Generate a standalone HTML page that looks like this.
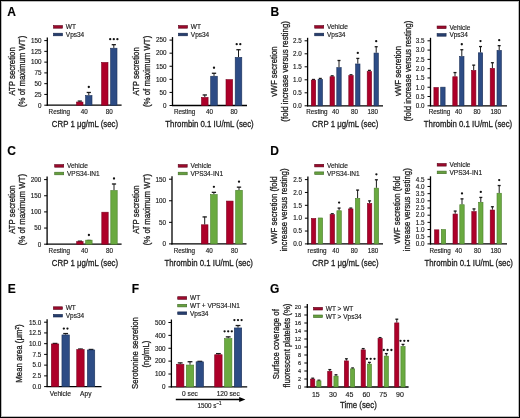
<!DOCTYPE html>
<html><head><meta charset="utf-8"><style>
html,body{margin:0;padding:0;background:#fff;}
body{width:520px;height:418px;overflow:hidden;}
text{stroke:#1a1a1a;stroke-width:0.15px;}
text.t{stroke-width:0.3px;}
svg{display:block;font-family:"Liberation Sans", sans-serif;-webkit-font-smoothing:antialiased;will-change:transform;}
</style></head><body>
<svg width="520" height="418" viewBox="0 0 520 418">
<rect x="0" y="0" width="520" height="418" fill="#fff"/>
<line x1="47.30" y1="37.60" x2="47.30" y2="105.70" stroke="#000" stroke-width="1.3"/>
<line x1="46.70" y1="105.20" x2="121.60" y2="105.20" stroke="#000" stroke-width="1.3"/>
<line x1="44.30" y1="105.20" x2="47.30" y2="105.20" stroke="#000" stroke-width="1.0"/>
<text x="41.40" y="107.50" font-size="6.3" text-anchor="end" font-weight="normal" fill="#1a1a1a" >0</text>
<line x1="44.30" y1="94.43" x2="47.30" y2="94.43" stroke="#000" stroke-width="1.0"/>
<text x="41.40" y="96.73" font-size="6.3" text-anchor="end" font-weight="normal" fill="#1a1a1a" >25</text>
<line x1="44.30" y1="83.67" x2="47.30" y2="83.67" stroke="#000" stroke-width="1.0"/>
<text x="41.40" y="85.97" font-size="6.3" text-anchor="end" font-weight="normal" fill="#1a1a1a" >50</text>
<line x1="44.30" y1="72.90" x2="47.30" y2="72.90" stroke="#000" stroke-width="1.0"/>
<text x="41.40" y="75.20" font-size="6.3" text-anchor="end" font-weight="normal" fill="#1a1a1a" >75</text>
<line x1="44.30" y1="62.13" x2="47.30" y2="62.13" stroke="#000" stroke-width="1.0"/>
<text x="41.40" y="64.43" font-size="6.3" text-anchor="end" font-weight="normal" fill="#1a1a1a" >100</text>
<line x1="44.30" y1="51.37" x2="47.30" y2="51.37" stroke="#000" stroke-width="1.0"/>
<text x="41.40" y="53.67" font-size="6.3" text-anchor="end" font-weight="normal" fill="#1a1a1a" >125</text>
<line x1="44.30" y1="40.60" x2="47.30" y2="40.60" stroke="#000" stroke-width="1.0"/>
<text x="41.40" y="42.90" font-size="6.3" text-anchor="end" font-weight="normal" fill="#1a1a1a" >150</text>
<rect x="51.60" y="105.24" width="6.40" height="-0.04" fill="#ad0029" stroke="#7a001e" stroke-width="0.6"/>
<text x="59.30" y="113.90" font-size="6.3" text-anchor="middle" font-weight="normal" fill="#1a1a1a" >Resting</text>
<line x1="79.80" y1="100.89" x2="79.80" y2="101.75" stroke="#1a1a1a" stroke-width="1.0"/>
<line x1="77.70" y1="101.09" x2="81.90" y2="101.09" stroke="#1a1a1a" stroke-width="1.3"/>
<rect x="76.60" y="102.05" width="6.40" height="3.15" fill="#ad0029" stroke="#7a001e" stroke-width="0.6"/>
<line x1="88.80" y1="92.28" x2="88.80" y2="95.29" stroke="#1a1a1a" stroke-width="1.0"/>
<line x1="86.70" y1="92.48" x2="90.90" y2="92.48" stroke="#1a1a1a" stroke-width="1.3"/>
<rect x="85.60" y="95.59" width="6.40" height="9.61" fill="#2d4c85" stroke="#1b3058" stroke-width="0.6"/>
<circle cx="88.80" cy="86.98" r="1.15" fill="#111"/>
<text x="84.30" y="113.90" font-size="6.3" text-anchor="middle" font-weight="normal" fill="#1a1a1a" >40</text>
<rect x="101.60" y="62.43" width="6.40" height="42.77" fill="#ad0029" stroke="#7a001e" stroke-width="0.6"/>
<line x1="113.80" y1="44.48" x2="113.80" y2="47.92" stroke="#1a1a1a" stroke-width="1.0"/>
<line x1="111.70" y1="44.68" x2="115.90" y2="44.68" stroke="#1a1a1a" stroke-width="1.3"/>
<rect x="110.60" y="48.22" width="6.40" height="56.98" fill="#2d4c85" stroke="#1b3058" stroke-width="0.6"/>
<circle cx="110.20" cy="39.18" r="1.15" fill="#111"/>
<circle cx="113.80" cy="39.18" r="1.15" fill="#111"/>
<circle cx="117.40" cy="39.18" r="1.15" fill="#111"/>
<text x="109.30" y="113.90" font-size="6.3" text-anchor="middle" font-weight="normal" fill="#1a1a1a" >80</text>
<text transform="translate(85.00,126.60) scale(0.8,1)" font-size="9.8" text-anchor="middle" font-weight="normal" fill="#1a1a1a"  class="t">CRP 1 μg/mL (sec)</text>
<text transform="translate(14.80,71.40) rotate(-90) scale(0.8,1)" font-size="9.8" text-anchor="middle" font-weight="normal" fill="#1a1a1a"  class="t">ATP secretion</text>
<text transform="translate(25.00,71.40) rotate(-90) scale(0.8,1)" font-size="9.8" text-anchor="middle" font-weight="normal" fill="#1a1a1a"  class="t">(% of maximum WT)</text>
<rect x="53.50" y="25.60" width="9.00" height="2.60" fill="#9c0a2c" stroke="#5a0018" stroke-width="0.6"/>
<text x="65.80" y="29.20" font-size="6.5" text-anchor="start" font-weight="normal" fill="#1a1a1a" >WT</text>
<rect x="53.50" y="33.20" width="9.00" height="2.60" fill="#263f6e" stroke="#14244a" stroke-width="0.6"/>
<text x="65.80" y="36.80" font-size="6.5" text-anchor="start" font-weight="normal" fill="#1a1a1a" >Vps34</text>
<line x1="172.50" y1="37.10" x2="172.50" y2="106.00" stroke="#000" stroke-width="1.3"/>
<line x1="171.90" y1="105.50" x2="247.00" y2="105.50" stroke="#000" stroke-width="1.3"/>
<line x1="169.50" y1="105.50" x2="172.50" y2="105.50" stroke="#000" stroke-width="1.0"/>
<text x="166.60" y="107.80" font-size="6.3" text-anchor="end" font-weight="normal" fill="#1a1a1a" >0</text>
<line x1="169.50" y1="92.42" x2="172.50" y2="92.42" stroke="#000" stroke-width="1.0"/>
<text x="166.60" y="94.72" font-size="6.3" text-anchor="end" font-weight="normal" fill="#1a1a1a" >50</text>
<line x1="169.50" y1="79.34" x2="172.50" y2="79.34" stroke="#000" stroke-width="1.0"/>
<text x="166.60" y="81.64" font-size="6.3" text-anchor="end" font-weight="normal" fill="#1a1a1a" >100</text>
<line x1="169.50" y1="66.26" x2="172.50" y2="66.26" stroke="#000" stroke-width="1.0"/>
<text x="166.60" y="68.56" font-size="6.3" text-anchor="end" font-weight="normal" fill="#1a1a1a" >150</text>
<line x1="169.50" y1="53.18" x2="172.50" y2="53.18" stroke="#000" stroke-width="1.0"/>
<text x="166.60" y="55.48" font-size="6.3" text-anchor="end" font-weight="normal" fill="#1a1a1a" >200</text>
<line x1="169.50" y1="40.10" x2="172.50" y2="40.10" stroke="#000" stroke-width="1.0"/>
<text x="166.60" y="42.40" font-size="6.3" text-anchor="end" font-weight="normal" fill="#1a1a1a" >250</text>
<text x="184.60" y="113.90" font-size="6.3" text-anchor="middle" font-weight="normal" fill="#1a1a1a" >Resting</text>
<line x1="204.80" y1="94.77" x2="204.80" y2="97.13" stroke="#1a1a1a" stroke-width="1.0"/>
<line x1="202.64" y1="94.97" x2="206.96" y2="94.97" stroke="#1a1a1a" stroke-width="1.3"/>
<rect x="201.50" y="97.43" width="6.60" height="8.07" fill="#ad0029" stroke="#7a001e" stroke-width="0.6"/>
<line x1="214.00" y1="73.06" x2="214.00" y2="75.94" stroke="#1a1a1a" stroke-width="1.0"/>
<line x1="211.84" y1="73.26" x2="216.16" y2="73.26" stroke="#1a1a1a" stroke-width="1.3"/>
<rect x="210.70" y="76.24" width="6.60" height="29.26" fill="#2d4c85" stroke="#1b3058" stroke-width="0.6"/>
<circle cx="214.00" cy="67.76" r="1.15" fill="#111"/>
<text x="209.40" y="113.90" font-size="6.3" text-anchor="middle" font-weight="normal" fill="#1a1a1a" >40</text>
<rect x="226.00" y="79.64" width="6.60" height="25.86" fill="#ad0029" stroke="#7a001e" stroke-width="0.6"/>
<line x1="238.50" y1="49.52" x2="238.50" y2="57.10" stroke="#1a1a1a" stroke-width="1.0"/>
<line x1="236.34" y1="49.72" x2="240.66" y2="49.72" stroke="#1a1a1a" stroke-width="1.3"/>
<rect x="235.20" y="57.40" width="6.60" height="48.10" fill="#2d4c85" stroke="#1b3058" stroke-width="0.6"/>
<circle cx="236.70" cy="44.22" r="1.15" fill="#111"/>
<circle cx="240.30" cy="44.22" r="1.15" fill="#111"/>
<text x="233.90" y="113.90" font-size="6.3" text-anchor="middle" font-weight="normal" fill="#1a1a1a" >80</text>
<text transform="translate(209.50,126.60) scale(0.8,1)" font-size="9.8" text-anchor="middle" font-weight="normal" fill="#1a1a1a"  class="t">Thrombin 0.1 IU/mL (sec)</text>
<text transform="translate(138.60,71.40) rotate(-90) scale(0.8,1)" font-size="9.8" text-anchor="middle" font-weight="normal" fill="#1a1a1a"  class="t">ATP secretion</text>
<text transform="translate(149.80,71.40) rotate(-90) scale(0.8,1)" font-size="9.8" text-anchor="middle" font-weight="normal" fill="#1a1a1a"  class="t">(% of maximum WT)</text>
<rect x="178.50" y="25.60" width="9.00" height="2.60" fill="#9c0a2c" stroke="#5a0018" stroke-width="0.6"/>
<text x="190.80" y="29.20" font-size="6.5" text-anchor="start" font-weight="normal" fill="#1a1a1a" >WT</text>
<rect x="178.50" y="33.20" width="9.00" height="2.60" fill="#263f6e" stroke="#14244a" stroke-width="0.6"/>
<text x="190.80" y="36.80" font-size="6.5" text-anchor="start" font-weight="normal" fill="#1a1a1a" >Vps34</text>
<line x1="307.60" y1="37.80" x2="307.60" y2="106.30" stroke="#000" stroke-width="1.3"/>
<line x1="307.00" y1="105.80" x2="383.00" y2="105.80" stroke="#000" stroke-width="1.3"/>
<line x1="304.60" y1="105.80" x2="307.60" y2="105.80" stroke="#000" stroke-width="1.0"/>
<text x="301.70" y="108.10" font-size="6.3" text-anchor="end" font-weight="normal" fill="#1a1a1a" >0.0</text>
<line x1="304.60" y1="92.80" x2="307.60" y2="92.80" stroke="#000" stroke-width="1.0"/>
<text x="301.70" y="95.10" font-size="6.3" text-anchor="end" font-weight="normal" fill="#1a1a1a" >0.5</text>
<line x1="304.60" y1="79.80" x2="307.60" y2="79.80" stroke="#000" stroke-width="1.0"/>
<text x="301.70" y="82.10" font-size="6.3" text-anchor="end" font-weight="normal" fill="#1a1a1a" >1.0</text>
<line x1="304.60" y1="66.80" x2="307.60" y2="66.80" stroke="#000" stroke-width="1.0"/>
<text x="301.70" y="69.10" font-size="6.3" text-anchor="end" font-weight="normal" fill="#1a1a1a" >1.5</text>
<line x1="304.60" y1="53.80" x2="307.60" y2="53.80" stroke="#000" stroke-width="1.0"/>
<text x="301.70" y="56.10" font-size="6.3" text-anchor="end" font-weight="normal" fill="#1a1a1a" >2.0</text>
<line x1="304.60" y1="40.80" x2="307.60" y2="40.80" stroke="#000" stroke-width="1.0"/>
<text x="301.70" y="43.10" font-size="6.3" text-anchor="end" font-weight="normal" fill="#1a1a1a" >2.5</text>
<line x1="313.50" y1="79.28" x2="313.50" y2="79.80" stroke="#1a1a1a" stroke-width="1.0"/>
<line x1="312.00" y1="79.48" x2="315.00" y2="79.48" stroke="#1a1a1a" stroke-width="1.3"/>
<rect x="311.30" y="80.10" width="4.40" height="25.70" fill="#ad0029" stroke="#7a001e" stroke-width="0.6"/>
<line x1="320.30" y1="78.24" x2="320.30" y2="79.02" stroke="#1a1a1a" stroke-width="1.0"/>
<line x1="318.80" y1="78.44" x2="321.80" y2="78.44" stroke="#1a1a1a" stroke-width="1.3"/>
<rect x="318.10" y="79.32" width="4.40" height="26.48" fill="#2d4c85" stroke="#1b3058" stroke-width="0.6"/>
<text x="316.90" y="114.30" font-size="6.3" text-anchor="middle" font-weight="normal" fill="#1a1a1a" >Resting</text>
<line x1="332.20" y1="75.64" x2="332.20" y2="76.42" stroke="#1a1a1a" stroke-width="1.0"/>
<line x1="330.70" y1="75.84" x2="333.70" y2="75.84" stroke="#1a1a1a" stroke-width="1.3"/>
<rect x="330.00" y="76.72" width="4.40" height="29.08" fill="#ad0029" stroke="#7a001e" stroke-width="0.6"/>
<line x1="339.00" y1="60.30" x2="339.00" y2="67.32" stroke="#1a1a1a" stroke-width="1.0"/>
<line x1="337.50" y1="60.50" x2="340.50" y2="60.50" stroke="#1a1a1a" stroke-width="1.3"/>
<rect x="336.80" y="67.62" width="4.40" height="38.18" fill="#2d4c85" stroke="#1b3058" stroke-width="0.6"/>
<text x="335.60" y="114.30" font-size="6.3" text-anchor="middle" font-weight="normal" fill="#1a1a1a" >40</text>
<line x1="351.00" y1="74.60" x2="351.00" y2="75.38" stroke="#1a1a1a" stroke-width="1.0"/>
<line x1="349.50" y1="74.80" x2="352.50" y2="74.80" stroke="#1a1a1a" stroke-width="1.3"/>
<rect x="348.80" y="75.68" width="4.40" height="30.12" fill="#ad0029" stroke="#7a001e" stroke-width="0.6"/>
<line x1="357.80" y1="58.22" x2="357.80" y2="63.68" stroke="#1a1a1a" stroke-width="1.0"/>
<line x1="356.30" y1="58.42" x2="359.30" y2="58.42" stroke="#1a1a1a" stroke-width="1.3"/>
<rect x="355.60" y="63.98" width="4.40" height="41.82" fill="#2d4c85" stroke="#1b3058" stroke-width="0.6"/>
<circle cx="357.80" cy="52.92" r="1.15" fill="#111"/>
<text x="354.40" y="114.30" font-size="6.3" text-anchor="middle" font-weight="normal" fill="#1a1a1a" >80</text>
<line x1="369.40" y1="70.18" x2="369.40" y2="71.22" stroke="#1a1a1a" stroke-width="1.0"/>
<line x1="367.90" y1="70.38" x2="370.90" y2="70.38" stroke="#1a1a1a" stroke-width="1.3"/>
<rect x="367.20" y="71.52" width="4.40" height="34.28" fill="#ad0029" stroke="#7a001e" stroke-width="0.6"/>
<line x1="376.20" y1="46.52" x2="376.20" y2="52.76" stroke="#1a1a1a" stroke-width="1.0"/>
<line x1="374.70" y1="46.72" x2="377.70" y2="46.72" stroke="#1a1a1a" stroke-width="1.3"/>
<rect x="374.00" y="53.06" width="4.40" height="52.74" fill="#2d4c85" stroke="#1b3058" stroke-width="0.6"/>
<circle cx="376.20" cy="41.22" r="1.15" fill="#111"/>
<text x="372.80" y="114.30" font-size="6.3" text-anchor="middle" font-weight="normal" fill="#1a1a1a" >180</text>
<text transform="translate(345.20,126.90) scale(0.8,1)" font-size="9.8" text-anchor="middle" font-weight="normal" fill="#1a1a1a"  class="t">CRP 1 μg/mL (sec)</text>
<text transform="translate(276.70,71.40) rotate(-90) scale(0.8,1)" font-size="9.8" text-anchor="middle" font-weight="normal" fill="#1a1a1a"  class="t">vWF secretion</text>
<text transform="translate(287.80,71.40) rotate(-90) scale(0.8,1)" font-size="9.8" text-anchor="middle" font-weight="normal" fill="#1a1a1a"  class="t">(fold increase versus resting)</text>
<rect x="314.70" y="25.60" width="9.00" height="2.60" fill="#9c0a2c" stroke="#5a0018" stroke-width="0.6"/>
<text x="327.00" y="29.20" font-size="6.5" text-anchor="start" font-weight="normal" fill="#1a1a1a" >Vehicle</text>
<rect x="314.70" y="33.20" width="9.00" height="2.60" fill="#263f6e" stroke="#14244a" stroke-width="0.6"/>
<text x="327.00" y="36.80" font-size="6.5" text-anchor="start" font-weight="normal" fill="#1a1a1a" >Vps34</text>
<line x1="430.50" y1="37.80" x2="430.50" y2="106.30" stroke="#000" stroke-width="1.3"/>
<line x1="429.90" y1="105.80" x2="507.00" y2="105.80" stroke="#000" stroke-width="1.3"/>
<line x1="427.50" y1="105.80" x2="430.50" y2="105.80" stroke="#000" stroke-width="1.0"/>
<text x="424.60" y="108.10" font-size="6.3" text-anchor="end" font-weight="normal" fill="#1a1a1a" >0.0</text>
<line x1="427.50" y1="96.51" x2="430.50" y2="96.51" stroke="#000" stroke-width="1.0"/>
<text x="424.60" y="98.81" font-size="6.3" text-anchor="end" font-weight="normal" fill="#1a1a1a" >0.5</text>
<line x1="427.50" y1="87.23" x2="430.50" y2="87.23" stroke="#000" stroke-width="1.0"/>
<text x="424.60" y="89.53" font-size="6.3" text-anchor="end" font-weight="normal" fill="#1a1a1a" >1.0</text>
<line x1="427.50" y1="77.94" x2="430.50" y2="77.94" stroke="#000" stroke-width="1.0"/>
<text x="424.60" y="80.24" font-size="6.3" text-anchor="end" font-weight="normal" fill="#1a1a1a" >1.5</text>
<line x1="427.50" y1="68.66" x2="430.50" y2="68.66" stroke="#000" stroke-width="1.0"/>
<text x="424.60" y="70.96" font-size="6.3" text-anchor="end" font-weight="normal" fill="#1a1a1a" >2.0</text>
<line x1="427.50" y1="59.37" x2="430.50" y2="59.37" stroke="#000" stroke-width="1.0"/>
<text x="424.60" y="61.67" font-size="6.3" text-anchor="end" font-weight="normal" fill="#1a1a1a" >2.5</text>
<line x1="427.50" y1="50.09" x2="430.50" y2="50.09" stroke="#000" stroke-width="1.0"/>
<text x="424.60" y="52.39" font-size="6.3" text-anchor="end" font-weight="normal" fill="#1a1a1a" >3.0</text>
<line x1="427.50" y1="40.80" x2="430.50" y2="40.80" stroke="#000" stroke-width="1.0"/>
<text x="424.60" y="43.10" font-size="6.3" text-anchor="end" font-weight="normal" fill="#1a1a1a" >3.5</text>
<rect x="433.90" y="87.53" width="4.40" height="18.27" fill="#ad0029" stroke="#7a001e" stroke-width="0.6"/>
<rect x="440.70" y="87.16" width="4.40" height="18.64" fill="#2d4c85" stroke="#1b3058" stroke-width="0.6"/>
<text x="439.50" y="113.90" font-size="6.3" text-anchor="middle" font-weight="normal" fill="#1a1a1a" >Resting</text>
<line x1="455.00" y1="72.37" x2="455.00" y2="76.46" stroke="#1a1a1a" stroke-width="1.0"/>
<line x1="453.50" y1="72.57" x2="456.50" y2="72.57" stroke="#1a1a1a" stroke-width="1.3"/>
<rect x="452.80" y="76.76" width="4.40" height="29.04" fill="#ad0029" stroke="#7a001e" stroke-width="0.6"/>
<line x1="461.80" y1="49.53" x2="461.80" y2="56.21" stroke="#1a1a1a" stroke-width="1.0"/>
<line x1="460.30" y1="49.73" x2="463.30" y2="49.73" stroke="#1a1a1a" stroke-width="1.3"/>
<rect x="459.60" y="56.51" width="4.40" height="49.29" fill="#2d4c85" stroke="#1b3058" stroke-width="0.6"/>
<circle cx="461.80" cy="44.23" r="1.15" fill="#111"/>
<text x="458.40" y="113.90" font-size="6.3" text-anchor="middle" font-weight="normal" fill="#1a1a1a" >40</text>
<line x1="473.70" y1="64.94" x2="473.70" y2="70.14" stroke="#1a1a1a" stroke-width="1.0"/>
<line x1="472.20" y1="65.14" x2="475.20" y2="65.14" stroke="#1a1a1a" stroke-width="1.3"/>
<rect x="471.50" y="70.44" width="4.40" height="35.36" fill="#ad0029" stroke="#7a001e" stroke-width="0.6"/>
<line x1="480.50" y1="46.37" x2="480.50" y2="52.50" stroke="#1a1a1a" stroke-width="1.0"/>
<line x1="479.00" y1="46.57" x2="482.00" y2="46.57" stroke="#1a1a1a" stroke-width="1.3"/>
<rect x="478.30" y="52.80" width="4.40" height="53.00" fill="#2d4c85" stroke="#1b3058" stroke-width="0.6"/>
<circle cx="480.50" cy="41.07" r="1.15" fill="#111"/>
<text x="477.10" y="113.90" font-size="6.3" text-anchor="middle" font-weight="normal" fill="#1a1a1a" >80</text>
<line x1="492.40" y1="62.53" x2="492.40" y2="68.10" stroke="#1a1a1a" stroke-width="1.0"/>
<line x1="490.90" y1="62.73" x2="493.90" y2="62.73" stroke="#1a1a1a" stroke-width="1.3"/>
<rect x="490.20" y="68.40" width="4.40" height="37.40" fill="#ad0029" stroke="#7a001e" stroke-width="0.6"/>
<line x1="499.20" y1="45.44" x2="499.20" y2="50.09" stroke="#1a1a1a" stroke-width="1.0"/>
<line x1="497.70" y1="45.64" x2="500.70" y2="45.64" stroke="#1a1a1a" stroke-width="1.3"/>
<rect x="497.00" y="50.39" width="4.40" height="55.41" fill="#2d4c85" stroke="#1b3058" stroke-width="0.6"/>
<circle cx="499.20" cy="40.14" r="1.15" fill="#111"/>
<text x="495.80" y="113.90" font-size="6.3" text-anchor="middle" font-weight="normal" fill="#1a1a1a" >180</text>
<text transform="translate(468.00,127.10) scale(0.8,1)" font-size="9.8" text-anchor="middle" font-weight="normal" fill="#1a1a1a"  class="t">Thrombin 0.1 IU/mL (sec)</text>
<text transform="translate(400.50,71.00) rotate(-90) scale(0.8,1)" font-size="9.8" text-anchor="middle" font-weight="normal" fill="#1a1a1a"  class="t">vWF secretion</text>
<text transform="translate(411.40,71.00) rotate(-90) scale(0.8,1)" font-size="9.8" text-anchor="middle" font-weight="normal" fill="#1a1a1a"  class="t">(fold increase versus resting)</text>
<rect x="437.10" y="26.00" width="9.00" height="2.60" fill="#9c0a2c" stroke="#5a0018" stroke-width="0.6"/>
<text x="449.40" y="29.60" font-size="6.5" text-anchor="start" font-weight="normal" fill="#1a1a1a" >Vehicle</text>
<rect x="437.10" y="33.60" width="9.00" height="2.60" fill="#263f6e" stroke="#14244a" stroke-width="0.6"/>
<text x="449.40" y="37.20" font-size="6.5" text-anchor="start" font-weight="normal" fill="#1a1a1a" >Vps34</text>
<line x1="47.10" y1="176.60" x2="47.10" y2="244.70" stroke="#000" stroke-width="1.3"/>
<line x1="46.50" y1="244.20" x2="121.60" y2="244.20" stroke="#000" stroke-width="1.3"/>
<line x1="44.10" y1="244.20" x2="47.10" y2="244.20" stroke="#000" stroke-width="1.0"/>
<text x="41.20" y="246.50" font-size="6.3" text-anchor="end" font-weight="normal" fill="#1a1a1a" >0</text>
<line x1="44.10" y1="228.05" x2="47.10" y2="228.05" stroke="#000" stroke-width="1.0"/>
<text x="41.20" y="230.35" font-size="6.3" text-anchor="end" font-weight="normal" fill="#1a1a1a" >50</text>
<line x1="44.10" y1="211.90" x2="47.10" y2="211.90" stroke="#000" stroke-width="1.0"/>
<text x="41.20" y="214.20" font-size="6.3" text-anchor="end" font-weight="normal" fill="#1a1a1a" >100</text>
<line x1="44.10" y1="195.75" x2="47.10" y2="195.75" stroke="#000" stroke-width="1.0"/>
<text x="41.20" y="198.05" font-size="6.3" text-anchor="end" font-weight="normal" fill="#1a1a1a" >150</text>
<line x1="44.10" y1="179.60" x2="47.10" y2="179.60" stroke="#000" stroke-width="1.0"/>
<text x="41.20" y="181.90" font-size="6.3" text-anchor="end" font-weight="normal" fill="#1a1a1a" >200</text>
<text x="59.30" y="252.80" font-size="6.3" text-anchor="middle" font-weight="normal" fill="#1a1a1a" >Resting</text>
<line x1="79.90" y1="240.97" x2="79.90" y2="241.29" stroke="#1a1a1a" stroke-width="1.0"/>
<line x1="77.80" y1="241.17" x2="82.00" y2="241.17" stroke="#1a1a1a" stroke-width="1.3"/>
<rect x="76.70" y="241.59" width="6.40" height="2.61" fill="#ad0029" stroke="#7a001e" stroke-width="0.6"/>
<line x1="88.90" y1="240.32" x2="88.90" y2="239.84" stroke="#1a1a1a" stroke-width="1.0"/>
<line x1="86.80" y1="240.52" x2="91.00" y2="240.52" stroke="#1a1a1a" stroke-width="1.3"/>
<rect x="85.70" y="240.14" width="6.40" height="4.06" fill="#6aaa40" stroke="#4a7f2a" stroke-width="0.6"/>
<circle cx="88.90" cy="235.02" r="1.15" fill="#111"/>
<text x="84.40" y="252.80" font-size="6.3" text-anchor="middle" font-weight="normal" fill="#1a1a1a" >40</text>
<rect x="101.80" y="212.20" width="6.40" height="32.00" fill="#ad0029" stroke="#7a001e" stroke-width="0.6"/>
<line x1="114.00" y1="183.80" x2="114.00" y2="190.26" stroke="#1a1a1a" stroke-width="1.0"/>
<line x1="111.90" y1="184.00" x2="116.10" y2="184.00" stroke="#1a1a1a" stroke-width="1.3"/>
<rect x="110.80" y="190.56" width="6.40" height="53.64" fill="#6aaa40" stroke="#4a7f2a" stroke-width="0.6"/>
<circle cx="114.00" cy="178.50" r="1.15" fill="#111"/>
<text x="109.50" y="252.80" font-size="6.3" text-anchor="middle" font-weight="normal" fill="#1a1a1a" >80</text>
<text transform="translate(85.00,265.70) scale(0.8,1)" font-size="9.8" text-anchor="middle" font-weight="normal" fill="#1a1a1a"  class="t">CRP 1 μg/mL (sec)</text>
<text transform="translate(14.80,209.60) rotate(-90) scale(0.8,1)" font-size="9.8" text-anchor="middle" font-weight="normal" fill="#1a1a1a"  class="t">ATP secretion</text>
<text transform="translate(25.00,209.60) rotate(-90) scale(0.8,1)" font-size="9.8" text-anchor="middle" font-weight="normal" fill="#1a1a1a"  class="t">(% of maximum WT)</text>
<rect x="54.70" y="164.60" width="9.00" height="2.60" fill="#9c0a2c" stroke="#5a0018" stroke-width="0.6"/>
<text x="67.00" y="168.20" font-size="6.5" text-anchor="start" font-weight="normal" fill="#1a1a1a" >Vehicle</text>
<rect x="54.70" y="172.20" width="9.00" height="2.60" fill="#66a03e" stroke="#3f6a26" stroke-width="0.6"/>
<text x="67.00" y="175.80" font-size="6.5" text-anchor="start" font-weight="normal" fill="#1a1a1a" >VPS34-IN1</text>
<line x1="172.00" y1="176.20" x2="172.00" y2="244.40" stroke="#000" stroke-width="1.3"/>
<line x1="171.40" y1="243.90" x2="246.50" y2="243.90" stroke="#000" stroke-width="1.3"/>
<line x1="169.00" y1="243.90" x2="172.00" y2="243.90" stroke="#000" stroke-width="1.0"/>
<text x="166.10" y="246.20" font-size="6.3" text-anchor="end" font-weight="normal" fill="#1a1a1a" >0</text>
<line x1="169.00" y1="222.33" x2="172.00" y2="222.33" stroke="#000" stroke-width="1.0"/>
<text x="166.10" y="224.63" font-size="6.3" text-anchor="end" font-weight="normal" fill="#1a1a1a" >50</text>
<line x1="169.00" y1="200.77" x2="172.00" y2="200.77" stroke="#000" stroke-width="1.0"/>
<text x="166.10" y="203.07" font-size="6.3" text-anchor="end" font-weight="normal" fill="#1a1a1a" >100</text>
<line x1="169.00" y1="179.20" x2="172.00" y2="179.20" stroke="#000" stroke-width="1.0"/>
<text x="166.10" y="181.50" font-size="6.3" text-anchor="end" font-weight="normal" fill="#1a1a1a" >150</text>
<text x="184.40" y="252.80" font-size="6.3" text-anchor="middle" font-weight="normal" fill="#1a1a1a" >Resting</text>
<line x1="204.70" y1="216.73" x2="204.70" y2="224.49" stroke="#1a1a1a" stroke-width="1.0"/>
<line x1="202.54" y1="216.93" x2="206.86" y2="216.93" stroke="#1a1a1a" stroke-width="1.3"/>
<rect x="201.40" y="224.79" width="6.60" height="19.11" fill="#ad0029" stroke="#7a001e" stroke-width="0.6"/>
<line x1="213.90" y1="192.14" x2="213.90" y2="194.30" stroke="#1a1a1a" stroke-width="1.0"/>
<line x1="211.74" y1="192.34" x2="216.06" y2="192.34" stroke="#1a1a1a" stroke-width="1.3"/>
<rect x="210.60" y="194.60" width="6.60" height="49.30" fill="#6aaa40" stroke="#4a7f2a" stroke-width="0.6"/>
<circle cx="213.90" cy="186.84" r="1.15" fill="#111"/>
<text x="209.30" y="252.80" font-size="6.3" text-anchor="middle" font-weight="normal" fill="#1a1a1a" >40</text>
<rect x="226.50" y="201.07" width="6.60" height="42.83" fill="#ad0029" stroke="#7a001e" stroke-width="0.6"/>
<line x1="239.00" y1="186.96" x2="239.00" y2="189.98" stroke="#1a1a1a" stroke-width="1.0"/>
<line x1="236.84" y1="187.16" x2="241.16" y2="187.16" stroke="#1a1a1a" stroke-width="1.3"/>
<rect x="235.70" y="190.28" width="6.60" height="53.62" fill="#6aaa40" stroke="#4a7f2a" stroke-width="0.6"/>
<circle cx="239.00" cy="181.66" r="1.15" fill="#111"/>
<text x="234.40" y="252.80" font-size="6.3" text-anchor="middle" font-weight="normal" fill="#1a1a1a" >80</text>
<text transform="translate(208.70,265.70) scale(0.8,1)" font-size="9.8" text-anchor="middle" font-weight="normal" fill="#1a1a1a"  class="t">Thrombin 0.1 IU/mL (sec)</text>
<text transform="translate(138.60,209.60) rotate(-90) scale(0.8,1)" font-size="9.8" text-anchor="middle" font-weight="normal" fill="#1a1a1a"  class="t">ATP secretion</text>
<text transform="translate(149.80,209.60) rotate(-90) scale(0.8,1)" font-size="9.8" text-anchor="middle" font-weight="normal" fill="#1a1a1a"  class="t">(% of maximum WT)</text>
<rect x="178.20" y="164.60" width="9.00" height="2.60" fill="#9c0a2c" stroke="#5a0018" stroke-width="0.6"/>
<text x="190.50" y="168.20" font-size="6.5" text-anchor="start" font-weight="normal" fill="#1a1a1a" >Vehicle</text>
<rect x="178.20" y="172.20" width="9.00" height="2.60" fill="#66a03e" stroke="#3f6a26" stroke-width="0.6"/>
<text x="190.50" y="175.80" font-size="6.5" text-anchor="start" font-weight="normal" fill="#1a1a1a" >VPS34-IN1</text>
<line x1="307.90" y1="176.60" x2="307.90" y2="244.40" stroke="#000" stroke-width="1.3"/>
<line x1="307.30" y1="243.90" x2="383.00" y2="243.90" stroke="#000" stroke-width="1.3"/>
<line x1="304.90" y1="243.90" x2="307.90" y2="243.90" stroke="#000" stroke-width="1.0"/>
<text x="302.00" y="246.20" font-size="6.3" text-anchor="end" font-weight="normal" fill="#1a1a1a" >0.0</text>
<line x1="304.90" y1="231.04" x2="307.90" y2="231.04" stroke="#000" stroke-width="1.0"/>
<text x="302.00" y="233.34" font-size="6.3" text-anchor="end" font-weight="normal" fill="#1a1a1a" >0.5</text>
<line x1="304.90" y1="218.18" x2="307.90" y2="218.18" stroke="#000" stroke-width="1.0"/>
<text x="302.00" y="220.48" font-size="6.3" text-anchor="end" font-weight="normal" fill="#1a1a1a" >1.0</text>
<line x1="304.90" y1="205.32" x2="307.90" y2="205.32" stroke="#000" stroke-width="1.0"/>
<text x="302.00" y="207.62" font-size="6.3" text-anchor="end" font-weight="normal" fill="#1a1a1a" >1.5</text>
<line x1="304.90" y1="192.46" x2="307.90" y2="192.46" stroke="#000" stroke-width="1.0"/>
<text x="302.00" y="194.76" font-size="6.3" text-anchor="end" font-weight="normal" fill="#1a1a1a" >2.0</text>
<line x1="304.90" y1="179.60" x2="307.90" y2="179.60" stroke="#000" stroke-width="1.0"/>
<text x="302.00" y="181.90" font-size="6.3" text-anchor="end" font-weight="normal" fill="#1a1a1a" >2.5</text>
<rect x="311.40" y="218.48" width="4.40" height="25.42" fill="#ad0029" stroke="#7a001e" stroke-width="0.6"/>
<rect x="318.20" y="217.97" width="4.40" height="25.93" fill="#6aaa40" stroke="#4a7f2a" stroke-width="0.6"/>
<text x="317.00" y="253.00" font-size="6.3" text-anchor="middle" font-weight="normal" fill="#1a1a1a" >resting</text>
<line x1="332.30" y1="213.55" x2="332.30" y2="214.32" stroke="#1a1a1a" stroke-width="1.0"/>
<line x1="330.80" y1="213.75" x2="333.80" y2="213.75" stroke="#1a1a1a" stroke-width="1.3"/>
<rect x="330.10" y="214.62" width="4.40" height="29.28" fill="#ad0029" stroke="#7a001e" stroke-width="0.6"/>
<line x1="339.10" y1="207.89" x2="339.10" y2="210.46" stroke="#1a1a1a" stroke-width="1.0"/>
<line x1="337.60" y1="208.09" x2="340.60" y2="208.09" stroke="#1a1a1a" stroke-width="1.3"/>
<rect x="336.90" y="210.76" width="4.40" height="33.14" fill="#6aaa40" stroke="#4a7f2a" stroke-width="0.6"/>
<circle cx="339.10" cy="202.59" r="1.15" fill="#111"/>
<text x="335.70" y="253.00" font-size="6.3" text-anchor="middle" font-weight="normal" fill="#1a1a1a" >40</text>
<line x1="350.80" y1="207.89" x2="350.80" y2="208.66" stroke="#1a1a1a" stroke-width="1.0"/>
<line x1="349.30" y1="208.09" x2="352.30" y2="208.09" stroke="#1a1a1a" stroke-width="1.3"/>
<rect x="348.60" y="208.96" width="4.40" height="34.94" fill="#ad0029" stroke="#7a001e" stroke-width="0.6"/>
<line x1="357.60" y1="189.89" x2="357.60" y2="198.12" stroke="#1a1a1a" stroke-width="1.0"/>
<line x1="356.10" y1="190.09" x2="359.10" y2="190.09" stroke="#1a1a1a" stroke-width="1.3"/>
<rect x="355.40" y="198.42" width="4.40" height="45.48" fill="#6aaa40" stroke="#4a7f2a" stroke-width="0.6"/>
<text x="354.20" y="253.00" font-size="6.3" text-anchor="middle" font-weight="normal" fill="#1a1a1a" >80</text>
<line x1="369.60" y1="200.69" x2="369.60" y2="203.26" stroke="#1a1a1a" stroke-width="1.0"/>
<line x1="368.10" y1="200.89" x2="371.10" y2="200.89" stroke="#1a1a1a" stroke-width="1.3"/>
<rect x="367.40" y="203.56" width="4.40" height="40.34" fill="#ad0029" stroke="#7a001e" stroke-width="0.6"/>
<line x1="376.40" y1="179.60" x2="376.40" y2="187.83" stroke="#1a1a1a" stroke-width="1.0"/>
<line x1="374.90" y1="179.80" x2="377.90" y2="179.80" stroke="#1a1a1a" stroke-width="1.3"/>
<rect x="374.20" y="188.13" width="4.40" height="55.77" fill="#6aaa40" stroke="#4a7f2a" stroke-width="0.6"/>
<circle cx="376.40" cy="174.30" r="1.15" fill="#111"/>
<text x="373.00" y="253.00" font-size="6.3" text-anchor="middle" font-weight="normal" fill="#1a1a1a" >180</text>
<text transform="translate(345.50,265.80) scale(0.8,1)" font-size="9.8" text-anchor="middle" font-weight="normal" fill="#1a1a1a"  class="t">CRP 1 μg/mL (sec)</text>
<text transform="translate(277.00,210.00) rotate(-90) scale(0.8,1)" font-size="9.8" text-anchor="middle" font-weight="normal" fill="#1a1a1a"  class="t">vWF secretion (fold</text>
<text transform="translate(287.40,210.00) rotate(-90) scale(0.8,1)" font-size="9.8" text-anchor="middle" font-weight="normal" fill="#1a1a1a"  class="t">increase versus resting)</text>
<rect x="314.70" y="164.30" width="9.00" height="2.60" fill="#9c0a2c" stroke="#5a0018" stroke-width="0.6"/>
<text x="327.00" y="167.90" font-size="6.5" text-anchor="start" font-weight="normal" fill="#1a1a1a" >Vehicle</text>
<rect x="314.70" y="171.90" width="9.00" height="2.60" fill="#66a03e" stroke="#3f6a26" stroke-width="0.6"/>
<text x="327.00" y="175.50" font-size="6.5" text-anchor="start" font-weight="normal" fill="#1a1a1a" >VPS34-IN1</text>
<line x1="430.50" y1="176.30" x2="430.50" y2="244.40" stroke="#000" stroke-width="1.3"/>
<line x1="429.90" y1="243.90" x2="507.00" y2="243.90" stroke="#000" stroke-width="1.3"/>
<line x1="427.50" y1="243.90" x2="430.50" y2="243.90" stroke="#000" stroke-width="1.0"/>
<text x="424.60" y="246.20" font-size="6.3" text-anchor="end" font-weight="normal" fill="#1a1a1a" >0.0</text>
<line x1="427.50" y1="236.72" x2="430.50" y2="236.72" stroke="#000" stroke-width="1.0"/>
<text x="424.60" y="239.02" font-size="6.3" text-anchor="end" font-weight="normal" fill="#1a1a1a" >0.5</text>
<line x1="427.50" y1="229.54" x2="430.50" y2="229.54" stroke="#000" stroke-width="1.0"/>
<text x="424.60" y="231.84" font-size="6.3" text-anchor="end" font-weight="normal" fill="#1a1a1a" >1.0</text>
<line x1="427.50" y1="222.37" x2="430.50" y2="222.37" stroke="#000" stroke-width="1.0"/>
<text x="424.60" y="224.67" font-size="6.3" text-anchor="end" font-weight="normal" fill="#1a1a1a" >1.5</text>
<line x1="427.50" y1="215.19" x2="430.50" y2="215.19" stroke="#000" stroke-width="1.0"/>
<text x="424.60" y="217.49" font-size="6.3" text-anchor="end" font-weight="normal" fill="#1a1a1a" >2.0</text>
<line x1="427.50" y1="208.01" x2="430.50" y2="208.01" stroke="#000" stroke-width="1.0"/>
<text x="424.60" y="210.31" font-size="6.3" text-anchor="end" font-weight="normal" fill="#1a1a1a" >2.5</text>
<line x1="427.50" y1="200.83" x2="430.50" y2="200.83" stroke="#000" stroke-width="1.0"/>
<text x="424.60" y="203.13" font-size="6.3" text-anchor="end" font-weight="normal" fill="#1a1a1a" >3.0</text>
<line x1="427.50" y1="193.66" x2="430.50" y2="193.66" stroke="#000" stroke-width="1.0"/>
<text x="424.60" y="195.96" font-size="6.3" text-anchor="end" font-weight="normal" fill="#1a1a1a" >3.5</text>
<line x1="427.50" y1="186.48" x2="430.50" y2="186.48" stroke="#000" stroke-width="1.0"/>
<text x="424.60" y="188.78" font-size="6.3" text-anchor="end" font-weight="normal" fill="#1a1a1a" >4.0</text>
<line x1="427.50" y1="179.30" x2="430.50" y2="179.30" stroke="#000" stroke-width="1.0"/>
<text x="424.60" y="181.60" font-size="6.3" text-anchor="end" font-weight="normal" fill="#1a1a1a" >4.5</text>
<rect x="434.50" y="229.84" width="4.40" height="14.06" fill="#ad0029" stroke="#7a001e" stroke-width="0.6"/>
<rect x="441.30" y="229.56" width="4.40" height="14.34" fill="#6aaa40" stroke="#4a7f2a" stroke-width="0.6"/>
<text x="440.10" y="252.80" font-size="6.3" text-anchor="middle" font-weight="normal" fill="#1a1a1a" >Resting</text>
<line x1="455.20" y1="210.88" x2="455.20" y2="213.75" stroke="#1a1a1a" stroke-width="1.0"/>
<line x1="453.70" y1="211.08" x2="456.70" y2="211.08" stroke="#1a1a1a" stroke-width="1.3"/>
<rect x="453.00" y="214.05" width="4.40" height="29.85" fill="#ad0029" stroke="#7a001e" stroke-width="0.6"/>
<line x1="462.00" y1="198.68" x2="462.00" y2="204.42" stroke="#1a1a1a" stroke-width="1.0"/>
<line x1="460.50" y1="198.88" x2="463.50" y2="198.88" stroke="#1a1a1a" stroke-width="1.3"/>
<rect x="459.80" y="204.72" width="4.40" height="39.18" fill="#6aaa40" stroke="#4a7f2a" stroke-width="0.6"/>
<circle cx="462.00" cy="193.38" r="1.15" fill="#111"/>
<text x="458.60" y="252.80" font-size="6.3" text-anchor="middle" font-weight="normal" fill="#1a1a1a" >40</text>
<line x1="474.00" y1="208.73" x2="474.00" y2="211.31" stroke="#1a1a1a" stroke-width="1.0"/>
<line x1="472.50" y1="208.93" x2="475.50" y2="208.93" stroke="#1a1a1a" stroke-width="1.3"/>
<rect x="471.80" y="211.61" width="4.40" height="32.29" fill="#ad0029" stroke="#7a001e" stroke-width="0.6"/>
<line x1="480.80" y1="197.24" x2="480.80" y2="201.98" stroke="#1a1a1a" stroke-width="1.0"/>
<line x1="479.30" y1="197.44" x2="482.30" y2="197.44" stroke="#1a1a1a" stroke-width="1.3"/>
<rect x="478.60" y="202.28" width="4.40" height="41.62" fill="#6aaa40" stroke="#4a7f2a" stroke-width="0.6"/>
<circle cx="480.80" cy="191.94" r="1.15" fill="#111"/>
<text x="477.40" y="252.80" font-size="6.3" text-anchor="middle" font-weight="normal" fill="#1a1a1a" >80</text>
<line x1="492.40" y1="206.58" x2="492.40" y2="209.73" stroke="#1a1a1a" stroke-width="1.0"/>
<line x1="490.90" y1="206.78" x2="493.90" y2="206.78" stroke="#1a1a1a" stroke-width="1.3"/>
<rect x="490.20" y="210.03" width="4.40" height="33.87" fill="#ad0029" stroke="#7a001e" stroke-width="0.6"/>
<line x1="499.20" y1="185.33" x2="499.20" y2="192.94" stroke="#1a1a1a" stroke-width="1.0"/>
<line x1="497.70" y1="185.53" x2="500.70" y2="185.53" stroke="#1a1a1a" stroke-width="1.3"/>
<rect x="497.00" y="193.24" width="4.40" height="50.66" fill="#6aaa40" stroke="#4a7f2a" stroke-width="0.6"/>
<circle cx="499.20" cy="180.03" r="1.15" fill="#111"/>
<text x="495.80" y="252.80" font-size="6.3" text-anchor="middle" font-weight="normal" fill="#1a1a1a" >180</text>
<text transform="translate(468.70,265.70) scale(0.8,1)" font-size="9.8" text-anchor="middle" font-weight="normal" fill="#1a1a1a"  class="t">Thrombin 0.1 IU/mL (sec)</text>
<text transform="translate(399.80,209.80) rotate(-90) scale(0.8,1)" font-size="9.8" text-anchor="middle" font-weight="normal" fill="#1a1a1a"  class="t">vWF secretion (fold</text>
<text transform="translate(409.80,209.80) rotate(-90) scale(0.8,1)" font-size="9.8" text-anchor="middle" font-weight="normal" fill="#1a1a1a"  class="t">increase versus resting)</text>
<rect x="437.20" y="163.50" width="9.00" height="2.60" fill="#9c0a2c" stroke="#5a0018" stroke-width="0.6"/>
<text x="449.50" y="167.10" font-size="6.5" text-anchor="start" font-weight="normal" fill="#1a1a1a" >Vehicle</text>
<rect x="437.20" y="171.10" width="9.00" height="2.60" fill="#66a03e" stroke="#3f6a26" stroke-width="0.6"/>
<text x="449.50" y="174.70" font-size="6.5" text-anchor="start" font-weight="normal" fill="#1a1a1a" >VPS34-IN1</text>
<line x1="47.10" y1="319.20" x2="47.10" y2="387.10" stroke="#000" stroke-width="1.3"/>
<line x1="46.50" y1="386.60" x2="101.50" y2="386.60" stroke="#000" stroke-width="1.3"/>
<line x1="44.10" y1="386.60" x2="47.10" y2="386.60" stroke="#000" stroke-width="1.0"/>
<text x="41.20" y="388.90" font-size="6.3" text-anchor="end" font-weight="normal" fill="#1a1a1a" >0.0</text>
<line x1="44.10" y1="375.87" x2="47.10" y2="375.87" stroke="#000" stroke-width="1.0"/>
<text x="41.20" y="378.17" font-size="6.3" text-anchor="end" font-weight="normal" fill="#1a1a1a" >2.5</text>
<line x1="44.10" y1="365.13" x2="47.10" y2="365.13" stroke="#000" stroke-width="1.0"/>
<text x="41.20" y="367.43" font-size="6.3" text-anchor="end" font-weight="normal" fill="#1a1a1a" >5.0</text>
<line x1="44.10" y1="354.40" x2="47.10" y2="354.40" stroke="#000" stroke-width="1.0"/>
<text x="41.20" y="356.70" font-size="6.3" text-anchor="end" font-weight="normal" fill="#1a1a1a" >7.5</text>
<line x1="44.10" y1="343.67" x2="47.10" y2="343.67" stroke="#000" stroke-width="1.0"/>
<text x="41.20" y="345.97" font-size="6.3" text-anchor="end" font-weight="normal" fill="#1a1a1a" >10.0</text>
<line x1="44.10" y1="332.93" x2="47.10" y2="332.93" stroke="#000" stroke-width="1.0"/>
<text x="41.20" y="335.23" font-size="6.3" text-anchor="end" font-weight="normal" fill="#1a1a1a" >12.5</text>
<line x1="44.10" y1="322.20" x2="47.10" y2="322.20" stroke="#000" stroke-width="1.0"/>
<text x="41.20" y="324.50" font-size="6.3" text-anchor="end" font-weight="normal" fill="#1a1a1a" >15.0</text>
<line x1="55.05" y1="343.24" x2="55.05" y2="343.67" stroke="#1a1a1a" stroke-width="1.0"/>
<line x1="52.65" y1="343.44" x2="57.45" y2="343.44" stroke="#1a1a1a" stroke-width="1.3"/>
<rect x="51.35" y="343.97" width="7.40" height="42.63" fill="#ad0029" stroke="#7a001e" stroke-width="0.6"/>
<line x1="65.65" y1="333.36" x2="65.65" y2="334.65" stroke="#1a1a1a" stroke-width="1.0"/>
<line x1="63.25" y1="333.56" x2="68.05" y2="333.56" stroke="#1a1a1a" stroke-width="1.3"/>
<rect x="61.95" y="334.95" width="7.40" height="51.65" fill="#2d4c85" stroke="#1b3058" stroke-width="0.6"/>
<circle cx="63.85" cy="328.56" r="1.15" fill="#111"/>
<circle cx="67.45" cy="328.56" r="1.15" fill="#111"/>
<text x="60.35" y="395.80" font-size="6.6" text-anchor="middle" font-weight="normal" fill="#1a1a1a" >Vehicle</text>
<line x1="80.45" y1="348.82" x2="80.45" y2="349.25" stroke="#1a1a1a" stroke-width="1.0"/>
<line x1="78.05" y1="349.02" x2="82.85" y2="349.02" stroke="#1a1a1a" stroke-width="1.3"/>
<rect x="76.75" y="349.55" width="7.40" height="37.05" fill="#ad0029" stroke="#7a001e" stroke-width="0.6"/>
<line x1="91.05" y1="349.25" x2="91.05" y2="349.68" stroke="#1a1a1a" stroke-width="1.0"/>
<line x1="88.65" y1="349.45" x2="93.45" y2="349.45" stroke="#1a1a1a" stroke-width="1.3"/>
<rect x="87.35" y="349.98" width="7.40" height="36.62" fill="#2d4c85" stroke="#1b3058" stroke-width="0.6"/>
<text x="85.75" y="395.80" font-size="6.6" text-anchor="middle" font-weight="normal" fill="#1a1a1a" >Apy</text>
<text transform="translate(22.40,353.60) rotate(-90) scale(0.8,1)" font-size="9.8" text-anchor="middle" font-weight="normal" fill="#1a1a1a"  class="t">Mean area (μm<tspan font-size="5.5" dy="-3">2</tspan><tspan dy="3">)</tspan></text>
<rect x="53.40" y="306.80" width="9.00" height="2.60" fill="#9c0a2c" stroke="#5a0018" stroke-width="0.6"/>
<text x="65.70" y="310.40" font-size="6.5" text-anchor="start" font-weight="normal" fill="#1a1a1a" >WT</text>
<rect x="53.40" y="314.40" width="9.00" height="2.60" fill="#263f6e" stroke="#14244a" stroke-width="0.6"/>
<text x="65.70" y="318.00" font-size="6.5" text-anchor="start" font-weight="normal" fill="#1a1a1a" >Vps34</text>
<line x1="171.40" y1="319.50" x2="171.40" y2="387.40" stroke="#000" stroke-width="1.3"/>
<line x1="170.80" y1="386.90" x2="247.20" y2="386.90" stroke="#000" stroke-width="1.3"/>
<line x1="168.40" y1="386.90" x2="171.40" y2="386.90" stroke="#000" stroke-width="1.0"/>
<text x="165.50" y="389.20" font-size="6.3" text-anchor="end" font-weight="normal" fill="#1a1a1a" >0</text>
<line x1="168.40" y1="374.02" x2="171.40" y2="374.02" stroke="#000" stroke-width="1.0"/>
<text x="165.50" y="376.32" font-size="6.3" text-anchor="end" font-weight="normal" fill="#1a1a1a" >100</text>
<line x1="168.40" y1="361.14" x2="171.40" y2="361.14" stroke="#000" stroke-width="1.0"/>
<text x="165.50" y="363.44" font-size="6.3" text-anchor="end" font-weight="normal" fill="#1a1a1a" >200</text>
<line x1="168.40" y1="348.26" x2="171.40" y2="348.26" stroke="#000" stroke-width="1.0"/>
<text x="165.50" y="350.56" font-size="6.3" text-anchor="end" font-weight="normal" fill="#1a1a1a" >300</text>
<line x1="168.40" y1="335.38" x2="171.40" y2="335.38" stroke="#000" stroke-width="1.0"/>
<text x="165.50" y="337.68" font-size="6.3" text-anchor="end" font-weight="normal" fill="#1a1a1a" >400</text>
<line x1="168.40" y1="322.50" x2="171.40" y2="322.50" stroke="#000" stroke-width="1.0"/>
<text x="165.50" y="324.80" font-size="6.3" text-anchor="end" font-weight="normal" fill="#1a1a1a" >500</text>
<line x1="180.20" y1="362.69" x2="180.20" y2="363.97" stroke="#1a1a1a" stroke-width="1.0"/>
<line x1="177.80" y1="362.89" x2="182.60" y2="362.89" stroke="#1a1a1a" stroke-width="1.3"/>
<rect x="176.50" y="364.27" width="7.40" height="22.63" fill="#ad0029" stroke="#7a001e" stroke-width="0.6"/>
<line x1="190.00" y1="361.53" x2="190.00" y2="364.75" stroke="#1a1a1a" stroke-width="1.0"/>
<line x1="187.60" y1="361.73" x2="192.40" y2="361.73" stroke="#1a1a1a" stroke-width="1.3"/>
<rect x="186.30" y="365.05" width="7.40" height="21.85" fill="#6aaa40" stroke="#4a7f2a" stroke-width="0.6"/>
<line x1="199.80" y1="361.14" x2="199.80" y2="361.53" stroke="#1a1a1a" stroke-width="1.0"/>
<line x1="197.40" y1="361.34" x2="202.20" y2="361.34" stroke="#1a1a1a" stroke-width="1.3"/>
<rect x="196.10" y="361.83" width="7.40" height="25.07" fill="#2d4c85" stroke="#1b3058" stroke-width="0.6"/>
<text x="190.00" y="396.20" font-size="6.6" text-anchor="middle" font-weight="normal" fill="#1a1a1a" >0 sec</text>
<line x1="218.40" y1="353.41" x2="218.40" y2="354.44" stroke="#1a1a1a" stroke-width="1.0"/>
<line x1="216.00" y1="353.61" x2="220.80" y2="353.61" stroke="#1a1a1a" stroke-width="1.3"/>
<rect x="214.70" y="354.74" width="7.40" height="32.16" fill="#ad0029" stroke="#7a001e" stroke-width="0.6"/>
<line x1="228.20" y1="336.67" x2="228.20" y2="338.34" stroke="#1a1a1a" stroke-width="1.0"/>
<line x1="225.80" y1="336.87" x2="230.60" y2="336.87" stroke="#1a1a1a" stroke-width="1.3"/>
<rect x="224.50" y="338.64" width="7.40" height="48.26" fill="#6aaa40" stroke="#4a7f2a" stroke-width="0.6"/>
<circle cx="224.60" cy="331.37" r="1.15" fill="#111"/>
<circle cx="228.20" cy="331.37" r="1.15" fill="#111"/>
<circle cx="231.80" cy="331.37" r="1.15" fill="#111"/>
<line x1="238.00" y1="325.33" x2="238.00" y2="327.65" stroke="#1a1a1a" stroke-width="1.0"/>
<line x1="235.60" y1="325.53" x2="240.40" y2="325.53" stroke="#1a1a1a" stroke-width="1.3"/>
<rect x="234.30" y="327.95" width="7.40" height="58.95" fill="#2d4c85" stroke="#1b3058" stroke-width="0.6"/>
<circle cx="234.40" cy="320.03" r="1.15" fill="#111"/>
<circle cx="238.00" cy="320.03" r="1.15" fill="#111"/>
<circle cx="241.60" cy="320.03" r="1.15" fill="#111"/>
<text x="228.20" y="396.20" font-size="6.6" text-anchor="middle" font-weight="normal" fill="#1a1a1a" >120 sec</text>
<text transform="translate(138.40,353.00) rotate(-90) scale(0.8,1)" font-size="9.8" text-anchor="middle" font-weight="normal" fill="#1a1a1a"  class="t">Serotonine secretion</text>
<text transform="translate(149.20,354.00) rotate(-90) scale(0.8,1)" font-size="9.8" text-anchor="middle" font-weight="normal" fill="#1a1a1a"  class="t">(ng/mL)</text>
<rect x="177.70" y="296.70" width="9.00" height="2.60" fill="#9c0a2c" stroke="#5a0018" stroke-width="0.6"/>
<text x="190.00" y="300.30" font-size="6.5" text-anchor="start" font-weight="normal" fill="#1a1a1a" >WT</text>
<rect x="177.70" y="304.30" width="9.00" height="2.60" fill="#66a03e" stroke="#3f6a26" stroke-width="0.6"/>
<text x="190.00" y="307.90" font-size="6.5" text-anchor="start" font-weight="normal" fill="#1a1a1a" >WT + VPS34-IN1</text>
<rect x="177.70" y="311.90" width="9.00" height="2.60" fill="#263f6e" stroke="#14244a" stroke-width="0.6"/>
<text x="190.00" y="315.50" font-size="6.5" text-anchor="start" font-weight="normal" fill="#1a1a1a" >Vps34</text>
<line x1="307.30" y1="304.00" x2="307.30" y2="387.50" stroke="#000" stroke-width="1.3"/>
<line x1="306.70" y1="387.00" x2="408.60" y2="387.00" stroke="#000" stroke-width="1.3"/>
<line x1="304.30" y1="387.00" x2="307.30" y2="387.00" stroke="#000" stroke-width="1.0"/>
<text x="301.10" y="389.30" font-size="5.6" text-anchor="end" font-weight="normal" fill="#1a1a1a" >0</text>
<line x1="304.30" y1="379.00" x2="307.30" y2="379.00" stroke="#000" stroke-width="1.0"/>
<text x="301.10" y="381.30" font-size="5.6" text-anchor="end" font-weight="normal" fill="#1a1a1a" >2</text>
<line x1="304.30" y1="371.00" x2="307.30" y2="371.00" stroke="#000" stroke-width="1.0"/>
<text x="301.10" y="373.30" font-size="5.6" text-anchor="end" font-weight="normal" fill="#1a1a1a" >4</text>
<line x1="304.30" y1="363.00" x2="307.30" y2="363.00" stroke="#000" stroke-width="1.0"/>
<text x="301.10" y="365.30" font-size="5.6" text-anchor="end" font-weight="normal" fill="#1a1a1a" >6</text>
<line x1="304.30" y1="355.00" x2="307.30" y2="355.00" stroke="#000" stroke-width="1.0"/>
<text x="301.10" y="357.30" font-size="5.6" text-anchor="end" font-weight="normal" fill="#1a1a1a" >8</text>
<line x1="304.30" y1="347.00" x2="307.30" y2="347.00" stroke="#000" stroke-width="1.0"/>
<text x="301.10" y="349.30" font-size="5.6" text-anchor="end" font-weight="normal" fill="#1a1a1a" >10</text>
<line x1="304.30" y1="339.00" x2="307.30" y2="339.00" stroke="#000" stroke-width="1.0"/>
<text x="301.10" y="341.30" font-size="5.6" text-anchor="end" font-weight="normal" fill="#1a1a1a" >12</text>
<line x1="304.30" y1="331.00" x2="307.30" y2="331.00" stroke="#000" stroke-width="1.0"/>
<text x="301.10" y="333.30" font-size="5.6" text-anchor="end" font-weight="normal" fill="#1a1a1a" >14</text>
<line x1="304.30" y1="323.00" x2="307.30" y2="323.00" stroke="#000" stroke-width="1.0"/>
<text x="301.10" y="325.30" font-size="5.6" text-anchor="end" font-weight="normal" fill="#1a1a1a" >16</text>
<line x1="304.30" y1="315.00" x2="307.30" y2="315.00" stroke="#000" stroke-width="1.0"/>
<text x="301.10" y="317.30" font-size="5.6" text-anchor="end" font-weight="normal" fill="#1a1a1a" >18</text>
<line x1="304.30" y1="307.00" x2="307.30" y2="307.00" stroke="#000" stroke-width="1.0"/>
<text x="301.10" y="309.30" font-size="5.6" text-anchor="end" font-weight="normal" fill="#1a1a1a" >20</text>
<line x1="312.70" y1="378.00" x2="312.70" y2="378.80" stroke="#1a1a1a" stroke-width="1.0"/>
<line x1="311.26" y1="378.20" x2="314.14" y2="378.20" stroke="#1a1a1a" stroke-width="1.3"/>
<rect x="310.60" y="379.10" width="4.20" height="7.90" fill="#ad0029" stroke="#7a001e" stroke-width="0.6"/>
<line x1="318.90" y1="380.00" x2="318.90" y2="380.60" stroke="#1a1a1a" stroke-width="1.0"/>
<line x1="317.46" y1="380.20" x2="320.34" y2="380.20" stroke="#1a1a1a" stroke-width="1.3"/>
<rect x="316.80" y="380.90" width="4.20" height="6.10" fill="#6aaa40" stroke="#4a7f2a" stroke-width="0.6"/>
<text x="315.80" y="397.20" font-size="7.0" text-anchor="middle" font-weight="normal" fill="#1a1a1a" >15</text>
<line x1="329.80" y1="369.40" x2="329.80" y2="371.00" stroke="#1a1a1a" stroke-width="1.0"/>
<line x1="328.36" y1="369.60" x2="331.24" y2="369.60" stroke="#1a1a1a" stroke-width="1.3"/>
<rect x="327.70" y="371.30" width="4.20" height="15.70" fill="#ad0029" stroke="#7a001e" stroke-width="0.6"/>
<line x1="336.00" y1="374.60" x2="336.00" y2="375.80" stroke="#1a1a1a" stroke-width="1.0"/>
<line x1="334.56" y1="374.80" x2="337.44" y2="374.80" stroke="#1a1a1a" stroke-width="1.3"/>
<rect x="333.90" y="376.10" width="4.20" height="10.90" fill="#6aaa40" stroke="#4a7f2a" stroke-width="0.6"/>
<text x="332.90" y="397.20" font-size="7.0" text-anchor="middle" font-weight="normal" fill="#1a1a1a" >30</text>
<line x1="346.40" y1="358.60" x2="346.40" y2="360.60" stroke="#1a1a1a" stroke-width="1.0"/>
<line x1="344.96" y1="358.80" x2="347.84" y2="358.80" stroke="#1a1a1a" stroke-width="1.3"/>
<rect x="344.30" y="360.90" width="4.20" height="26.10" fill="#ad0029" stroke="#7a001e" stroke-width="0.6"/>
<line x1="352.60" y1="367.80" x2="352.60" y2="368.60" stroke="#1a1a1a" stroke-width="1.0"/>
<line x1="351.16" y1="368.00" x2="354.04" y2="368.00" stroke="#1a1a1a" stroke-width="1.3"/>
<rect x="350.50" y="368.90" width="4.20" height="18.10" fill="#6aaa40" stroke="#4a7f2a" stroke-width="0.6"/>
<text x="349.50" y="397.20" font-size="7.0" text-anchor="middle" font-weight="normal" fill="#1a1a1a" >45</text>
<line x1="363.20" y1="348.40" x2="363.20" y2="349.60" stroke="#1a1a1a" stroke-width="1.0"/>
<line x1="361.76" y1="348.60" x2="364.64" y2="348.60" stroke="#1a1a1a" stroke-width="1.3"/>
<rect x="361.10" y="349.90" width="4.20" height="37.10" fill="#ad0029" stroke="#7a001e" stroke-width="0.6"/>
<line x1="369.40" y1="362.20" x2="369.40" y2="363.80" stroke="#1a1a1a" stroke-width="1.0"/>
<line x1="367.96" y1="362.40" x2="370.84" y2="362.40" stroke="#1a1a1a" stroke-width="1.3"/>
<rect x="367.30" y="364.10" width="4.20" height="22.90" fill="#6aaa40" stroke="#4a7f2a" stroke-width="0.6"/>
<circle cx="366.90" cy="358.80" r="1.15" fill="#111"/>
<circle cx="370.70" cy="358.80" r="1.15" fill="#111"/>
<circle cx="374.50" cy="358.80" r="1.15" fill="#111"/>
<text x="366.30" y="397.20" font-size="7.0" text-anchor="middle" font-weight="normal" fill="#1a1a1a" >60</text>
<line x1="380.10" y1="337.40" x2="380.10" y2="338.20" stroke="#1a1a1a" stroke-width="1.0"/>
<line x1="378.66" y1="337.60" x2="381.54" y2="337.60" stroke="#1a1a1a" stroke-width="1.3"/>
<rect x="378.00" y="338.50" width="4.20" height="48.50" fill="#ad0029" stroke="#7a001e" stroke-width="0.6"/>
<line x1="386.30" y1="353.40" x2="386.30" y2="355.80" stroke="#1a1a1a" stroke-width="1.0"/>
<line x1="384.86" y1="353.60" x2="387.74" y2="353.60" stroke="#1a1a1a" stroke-width="1.3"/>
<rect x="384.20" y="356.10" width="4.20" height="30.90" fill="#6aaa40" stroke="#4a7f2a" stroke-width="0.6"/>
<circle cx="383.80" cy="350.00" r="1.15" fill="#111"/>
<circle cx="387.60" cy="350.00" r="1.15" fill="#111"/>
<circle cx="391.40" cy="350.00" r="1.15" fill="#111"/>
<text x="383.20" y="397.20" font-size="7.0" text-anchor="middle" font-weight="normal" fill="#1a1a1a" >75</text>
<line x1="396.80" y1="319.00" x2="396.80" y2="322.60" stroke="#1a1a1a" stroke-width="1.0"/>
<line x1="395.36" y1="319.20" x2="398.24" y2="319.20" stroke="#1a1a1a" stroke-width="1.3"/>
<rect x="394.70" y="322.90" width="4.20" height="64.10" fill="#ad0029" stroke="#7a001e" stroke-width="0.6"/>
<line x1="403.00" y1="344.20" x2="403.00" y2="346.20" stroke="#1a1a1a" stroke-width="1.0"/>
<line x1="401.56" y1="344.40" x2="404.44" y2="344.40" stroke="#1a1a1a" stroke-width="1.3"/>
<rect x="400.90" y="346.50" width="4.20" height="40.50" fill="#6aaa40" stroke="#4a7f2a" stroke-width="0.6"/>
<circle cx="400.50" cy="340.80" r="1.15" fill="#111"/>
<circle cx="404.30" cy="340.80" r="1.15" fill="#111"/>
<circle cx="408.10" cy="340.80" r="1.15" fill="#111"/>
<text x="399.90" y="397.20" font-size="7.0" text-anchor="middle" font-weight="normal" fill="#1a1a1a" >90</text>
<text transform="translate(358.40,408.20) scale(0.8,1)" font-size="9.8" text-anchor="middle" font-weight="normal" fill="#1a1a1a"  class="t">Time (sec)</text>
<text transform="translate(279.10,344.20) rotate(-90) scale(0.8,1)" font-size="9.8" text-anchor="middle" font-weight="normal" fill="#1a1a1a"  class="t">Surface coverage of</text>
<text transform="translate(289.90,345.50) rotate(-90) scale(0.8,1)" font-size="9.8" text-anchor="middle" font-weight="normal" fill="#1a1a1a"  class="t">fluorescent platelets (%)</text>
<rect x="313.50" y="307.40" width="9.00" height="2.60" fill="#9c0a2c" stroke="#5a0018" stroke-width="0.6"/>
<text x="325.80" y="311.00" font-size="6.5" text-anchor="start" font-weight="normal" fill="#1a1a1a" >WT &gt; WT</text>
<rect x="313.50" y="315.00" width="9.00" height="2.60" fill="#66a03e" stroke="#3f6a26" stroke-width="0.6"/>
<text x="325.80" y="318.60" font-size="6.5" text-anchor="start" font-weight="normal" fill="#1a1a1a" >WT &gt; Vps34</text>
<text x="7.20" y="15.60" font-size="12" text-anchor="start" font-weight="bold" fill="#000" >A</text>
<text x="270.40" y="15.90" font-size="12" text-anchor="start" font-weight="bold" fill="#000" >B</text>
<text x="7.20" y="154.80" font-size="12" text-anchor="start" font-weight="bold" fill="#000" >C</text>
<text x="270.30" y="155.00" font-size="12" text-anchor="start" font-weight="bold" fill="#000" >D</text>
<text x="7.80" y="292.60" font-size="12" text-anchor="start" font-weight="bold" fill="#000" >E</text>
<text x="131.70" y="292.60" font-size="12" text-anchor="start" font-weight="bold" fill="#000" >F</text>
<text x="269.90" y="292.90" font-size="12" text-anchor="start" font-weight="bold" fill="#000" >G</text>
<line x1="175.80" y1="399.50" x2="241.00" y2="399.50" stroke="#000" stroke-width="1.4"/>
<path d="M239.2,397.0 L245.4,399.5 L239.2,402.0 Z" fill="#000"/>
<text x="209.50" y="407.80" font-size="6.3" text-anchor="middle" font-weight="normal" fill="#1a1a1a" >1500 s<tspan font-size="4.5" dy="-2.5">−1</tspan></text>
<rect x="1.5" y="1.5" width="517" height="415" fill="none" stroke="#bbb" stroke-width="1"/>
<rect x="0.5" y="0.5" width="519" height="417" fill="none" stroke="#000" stroke-width="1"/>
</svg>
</body></html>
